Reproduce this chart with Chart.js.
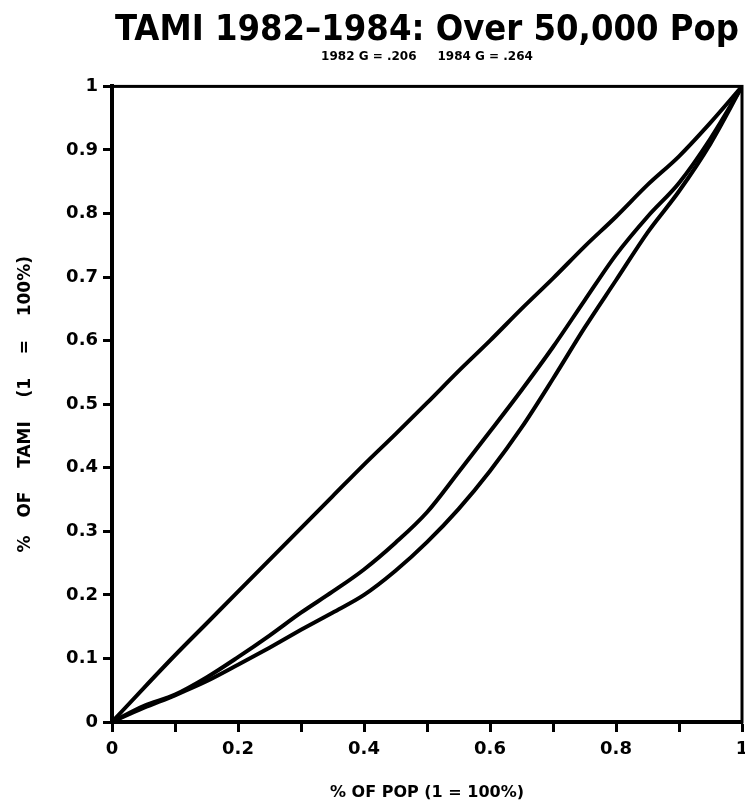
<!DOCTYPE html>
<html>
<head>
<meta charset="utf-8">
<script src="https://cdn.jsdelivr.net/npm/chart.js@4.4.1/dist/chart.umd.min.js"></script>
<style>
  html, body { margin: 0; padding: 0; background: #fff; }
  #wrap { width: 745px; height: 802px; }
</style>
</head>
<body>
<div id="wrap"><canvas id="lorenz"></canvas></div>
<script>
// share of population (x) and cumulative share of TAMI (y)
const popShare = [0, 0.05, 0.1, 0.15, 0.2, 0.25, 0.3, 0.35, 0.4, 0.45, 0.5,
                  0.55, 0.6, 0.65, 0.7, 0.75, 0.8, 0.85, 0.9, 0.95, 1];
const equality = [0, 0.053, 0.105, 0.155, 0.205, 0.255, 0.305, 0.355, 0.405, 0.453, 0.502,
                  0.552, 0.6, 0.65, 0.698, 0.748, 0.795, 0.845, 0.89, 0.943, 1];
const tami1982 = [0, 0.025, 0.043, 0.07, 0.102, 0.136, 0.172, 0.205, 0.24, 0.282, 0.33,
                  0.393, 0.457, 0.522, 0.59, 0.663, 0.735, 0.795, 0.848, 0.918, 1];
const tami1984 = [0, 0.022, 0.042, 0.064, 0.09, 0.117, 0.145, 0.172, 0.2, 0.238, 0.283,
                  0.335, 0.395, 0.463, 0.54, 0.62, 0.695, 0.77, 0.835, 0.91, 1];
const xTickLabels = ["0", "0.2", "0.4", "0.6", "0.8", "1"];
const yTickLabels = ["0", "0.1", "0.2", "0.3", "0.4", "0.5", "0.6", "0.7", "0.8", "0.9", "1"];

const NARROW = "'DejaVu Sans Condensed', 'Liberation Sans Narrow', 'DejaVu Sans', sans-serif";
const SANS = "'DejaVu Sans', sans-serif";

const toPoints = (ys) => popShare.map((x, i) => ({ x, y: ys[i] }));

// box around the plot (top and right sides as well)
const frame = {
  id: "frame",
  afterDatasetsDraw(chart) {
    const { ctx, chartArea: a } = chart;
    ctx.save();
    ctx.strokeStyle = "#000";
    ctx.lineWidth = 3;
    ctx.strokeRect(a.left, a.top, a.right - a.left, a.bottom - a.top);
    ctx.restore();
  },
};

const line = (label, ys) => ({
  label,
  data: toPoints(ys),
  showLine: true,
  borderColor: "#000",
  borderWidth: 4,
  pointRadius: 0,
  cubicInterpolationMode: "monotone",
});

new Chart(document.getElementById("lorenz"), {
  type: "scatter",
  data: {
    datasets: [
      line("Equality", equality),
      line("1982", tami1982),
      line("1984", tami1984),
    ],
  },
  plugins: [frame],
  options: {
    responsive: true,
    maintainAspectRatio: false,
    animation: false,
    layout: { padding: { left: 4, right: 3, top: 0, bottom: 0 } },
    plugins: {
      legend: { display: false },
      tooltip: { enabled: false },
      title: {
        display: true,
        fullSize: false,
        text: "TAMI 1982\u20131984: Over 50,000 Pop",
        color: "#000",
        font: { family: NARROW, size: 36, weight: "bold", lineHeight: 1 },
        padding: { top: 13, bottom: 0 },
      },
      subtitle: {
        display: true,
        fullSize: false,
        text: "1982 G = .206     1984 G = .264",
        color: "#000",
        font: { family: SANS, size: 12, weight: "bold" },
        padding: { top: 1, bottom: 22 },
      },
    },
    scales: {
      x: {
        type: "linear",
        min: 0,
        max: 1,
        border: { display: true, color: "#000", width: 4 },
        grid: { drawOnChartArea: false, color: "#000", tickWidth: 3, tickLength: 10 },
        afterFit: (s) => { s.height = 80; s.paddingRight = 0; },
        ticks: {
          stepSize: 0.1,
          color: "#000",
          font: { family: SANS, size: 18, weight: "bold" },
          padding: 7,
          maxRotation: 0,
          autoSkip: false,
          callback: (v) => {
            const i = Math.round(v * 10);
            return i % 2 === 0 ? xTickLabels[i / 2] : "";
          },
        },
        title: {
          display: true,
          text: "% OF POP (1 = 100%)",
          color: "#000",
          font: { family: SANS, size: 16, weight: "bold" },
          padding: { top: 0, bottom: 0 },
        },
      },
      y: {
        type: "linear",
        min: 0,
        max: 1,
        border: { display: true, color: "#000", width: 4 },
        grid: { drawOnChartArea: false, color: "#000", tickWidth: 3, tickLength: 9 },
        afterFit: (s) => { s.width = 108; },
        ticks: {
          stepSize: 0.1,
          color: "#000",
          font: { family: SANS, size: 18, weight: "bold" },
          padding: 5,
          autoSkip: false,
          callback: (v) => yTickLabels[Math.round(v * 10)],
        },
        title: {
          display: true,
          text: "%   OF    TAMI    (1    =    100%)",
          color: "#000",
          font: { family: SANS, size: 17, weight: "bold" },
          padding: { top: 11, bottom: 0 },
        },
      },
    },
  },
});
</script>
</body>
</html>
